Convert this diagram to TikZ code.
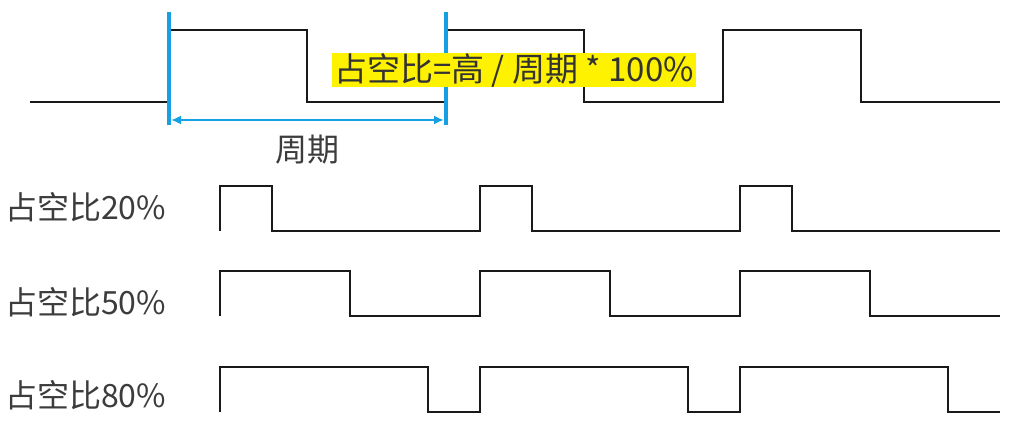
\documentclass[tikz,border=0pt]{standalone}
\usepackage{fontspec}
\setmainfont{Noto Sans CJK SC}
\usetikzlibrary{arrows.meta}
\tikzset{>=latex}
\colorlet{wavecol}{black!90}
\definecolor{periodcol}{HTML}{169FE3}
\definecolor{markcol}{HTML}{FFF200}
\definecolor{textcol}{HTML}{3C3C3C}
\tikzset{
  wave/.style={line width=2pt,wavecol,line join=miter},
  period/.style={line width=3.5pt,periodcol},
  label/.style={text=textcol,inner sep=0pt,font=\fontsize{32}{38}\selectfont},
  formula/.style={label,fill=markcol,inner xsep=2pt,inner ysep=0pt,text=black!80,
                  font=\fontsize{33}{38}\selectfont}}

\begin{document}
\begin{tikzpicture}[x=1pt,y=-1pt]
  \useasboundingbox (0,0) rectangle (1017,438);
  \def\Tt{277}
  \def\T{260}
  \def\xs{220}

  % TOP WAVE
  \draw[wave] (30,102) \foreach \k [evaluate={\xr=169+\k*\Tt; \xf=\xr+138;}] in {0,1,2}{
      -- (\xr,102) -- (\xr,30) -- (\xf,30) -- (\xf,102) } -- (1000,102);

  % PERIOD
  \coordinate (pa) at (169,12);
  \coordinate (pb) at (446,12);
  \coordinate (pa') at (169,125);
  \coordinate (pb') at (446,125);
  \coordinate (aa) at (171,120);
  \coordinate (ab) at (444,120);
  \draw[period] (pa) -- (pa');
  \draw[period] (pb) -- (pb');
  \draw[period,line width=2.8pt,{Latex[length=10pt,width=9pt]}-{Latex[length=10pt,width=9pt]}] (aa) -- (ab);
  \node[label] (T) at (307,150) {周期};

  % FORMULA
  \node[formula,minimum height=34pt] (duty) at (514,70) {占空比=高 / 周期 * 100\%};

  % DUTY CYCLES
  \foreach \d/\y/\ym/\n [evaluate={\yt=\y-45;}] in {0.2/231/207/20,0.5/316/302/50,0.8/412/395/80}{
    \node[label,anchor=west] (d\n) at (5,\ym) {占空比\n\%};
    \draw[wave] (\xs,\y) \foreach \k [evaluate={\xr=\xs+\k*\T; \xf=\xr+\d*\T;}] in {0,1,2}{
        -- (\xr,\y) -- (\xr,\yt) -- (\xf,\yt) -- (\xf,\y) } -- (1000,\y);
  }

\end{tikzpicture}
\end{document}
